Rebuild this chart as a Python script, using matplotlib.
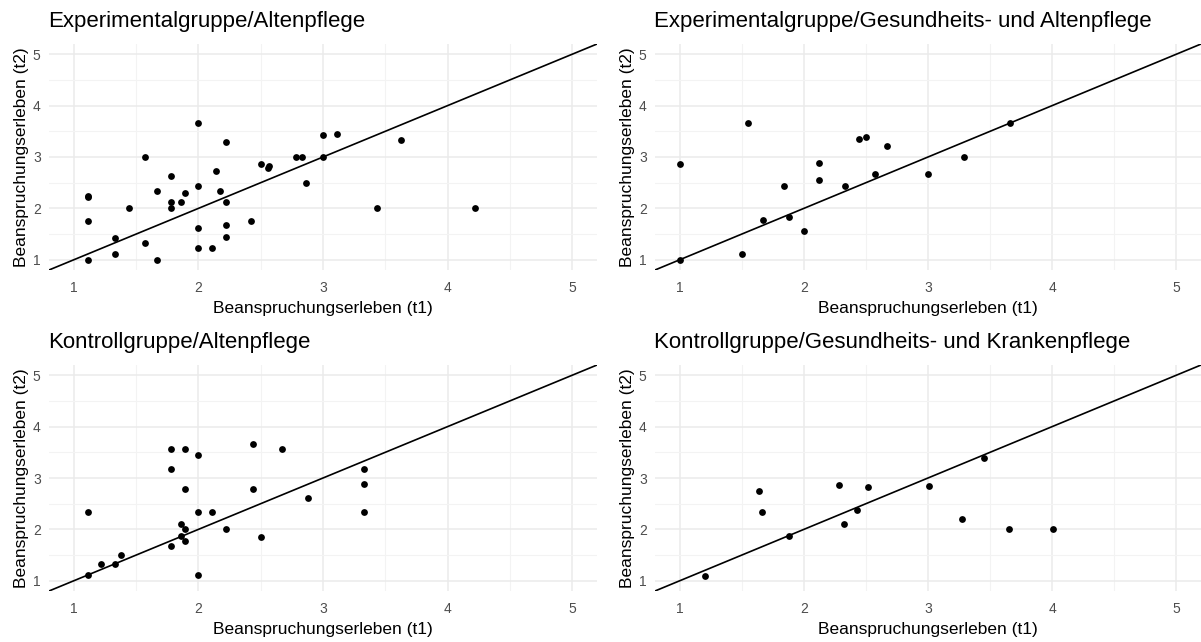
import matplotlib
matplotlib.use("Agg")
import matplotlib.pyplot as plt
from matplotlib.ticker import MultipleLocator

plt.rcParams['font.family'] = ['Liberation Sans', 'DejaVu Sans']

titles = ["Experimentalgruppe/Altenpflege",
          "Experimentalgruppe/Gesundheits- und Altenpflege",
          "Kontrollgruppe/Altenpflege",
          "Kontrollgruppe/Gesundheits- und Krankenpflege"]

x1 = [1.11, 1.11, 1.11, 1.11, 1.33, 1.33, 1.44, 1.57, 1.57, 1.67, 1.67, 1.78, 1.78, 1.78,
      1.86, 1.89, 2.0, 2.0, 2.0, 2.0, 2.11, 2.14, 2.17, 2.22, 2.22, 2.22, 2.22, 2.42, 2.5,
      2.56, 2.57, 2.78, 2.83, 2.86, 3.0, 3.0, 3.11, 3.43, 3.63, 4.22]
y1 = [2.25, 2.22, 1.75, 1.0, 1.43, 1.12, 2.0, 3.0, 1.33, 2.33, 1.0, 2.63, 2.12, 2.0,
      2.13, 2.29, 3.67, 2.44, 1.62, 1.22, 1.22, 2.72, 2.33, 3.29, 2.12, 1.67, 1.44, 1.75, 2.86,
      2.78, 2.83, 3.0, 3.0, 2.5, 3.43, 3.0, 3.44, 2.0, 3.33, 2.0]

x2 = [1.0, 1.0, 1.5, 1.55, 1.67, 1.84, 1.88, 2.0, 2.12, 2.12, 2.33, 2.44, 2.5, 2.57, 2.67,
      3.0, 3.29, 3.66]
y2 = [2.86, 1.0, 1.11, 3.67, 1.78, 2.43, 1.83, 1.56, 2.56, 2.89, 2.43, 3.35, 3.38, 2.67, 3.22,
      2.67, 3.0, 3.67]

x3 = [1.11, 1.11, 1.22, 1.33, 1.38, 1.78, 1.78, 1.78, 1.89, 1.89, 1.86, 1.89, 1.86, 1.89,
      2.0, 2.0, 2.0, 2.11, 2.22, 2.44, 2.44, 2.5, 2.67, 2.88, 3.33, 3.33, 3.33]
y3 = [1.11, 2.33, 1.33, 1.33, 1.5, 3.56, 3.17, 1.67, 3.56, 2.78, 2.11, 2.0, 1.88, 1.78,
      3.44, 2.33, 1.11, 2.33, 2.0, 3.67, 2.78, 1.86, 3.56, 2.62, 3.17, 2.88, 2.33]

x4 = [1.2, 1.64, 1.66, 1.88, 2.28, 2.32, 2.43, 2.52, 3.01, 3.27, 3.45, 3.65, 4.01]
y4 = [1.1, 2.75, 2.33, 1.88, 2.87, 2.1, 2.37, 2.82, 2.84, 2.2, 3.38, 2.0, 2.0]

xs = [x1, x2, x3, x4]
ys = [y1, y2, y3, y4]

W, H = 1201, 642
fig = plt.figure(figsize=(W / 100, H / 100), dpi=100)

# axes boxes in pixels: left, top, right, bottom
boxes = [(49, 44, 597, 270), (655, 44, 1201, 270),
         (49, 365, 597, 591), (655, 365, 1201, 591)]

for i, (l, t, r, b) in enumerate(boxes):
    ax = fig.add_axes([l / W, 1 - b / H, (r - l) / W, (b - t) / H])
    ax.set_xlim(0.8, 5.2)
    ax.set_ylim(0.8, 5.2)
    ax.xaxis.set_major_locator(MultipleLocator(1))
    ax.yaxis.set_major_locator(MultipleLocator(1))
    ax.xaxis.set_minor_locator(MultipleLocator(0.5))
    ax.yaxis.set_minor_locator(MultipleLocator(0.5))
    ax.grid(which='major', color='#EBEBEB', lw=1.1)
    ax.grid(which='minor', color='#F3F3F3', lw=0.8)
    ax.set_axisbelow(True)
    for s in ax.spines.values():
        s.set_visible(False)
    ax.tick_params(which='both', length=0, labelsize=10, colors='#4D4D4D')
    ax.tick_params(axis='x', pad=8)
    ax.tick_params(axis='y', pad=6)
    ax.axline((1, 1), slope=1, color='black', lw=1.2)
    ax.scatter(xs[i], ys[i], s=24, color='black', zorder=3, linewidths=0)
    ax.set_title(titles[i], loc='left', fontsize=16, pad=12, x=-0.002)
    ax.set_xlabel("Beanspruchungserleben (t1)", fontsize=12.5, labelpad=4)
    ax.set_ylabel("Beanspruchungserleben (t2)", fontsize=12.5, labelpad=3)

plt.savefig("out.png", dpi=100)
